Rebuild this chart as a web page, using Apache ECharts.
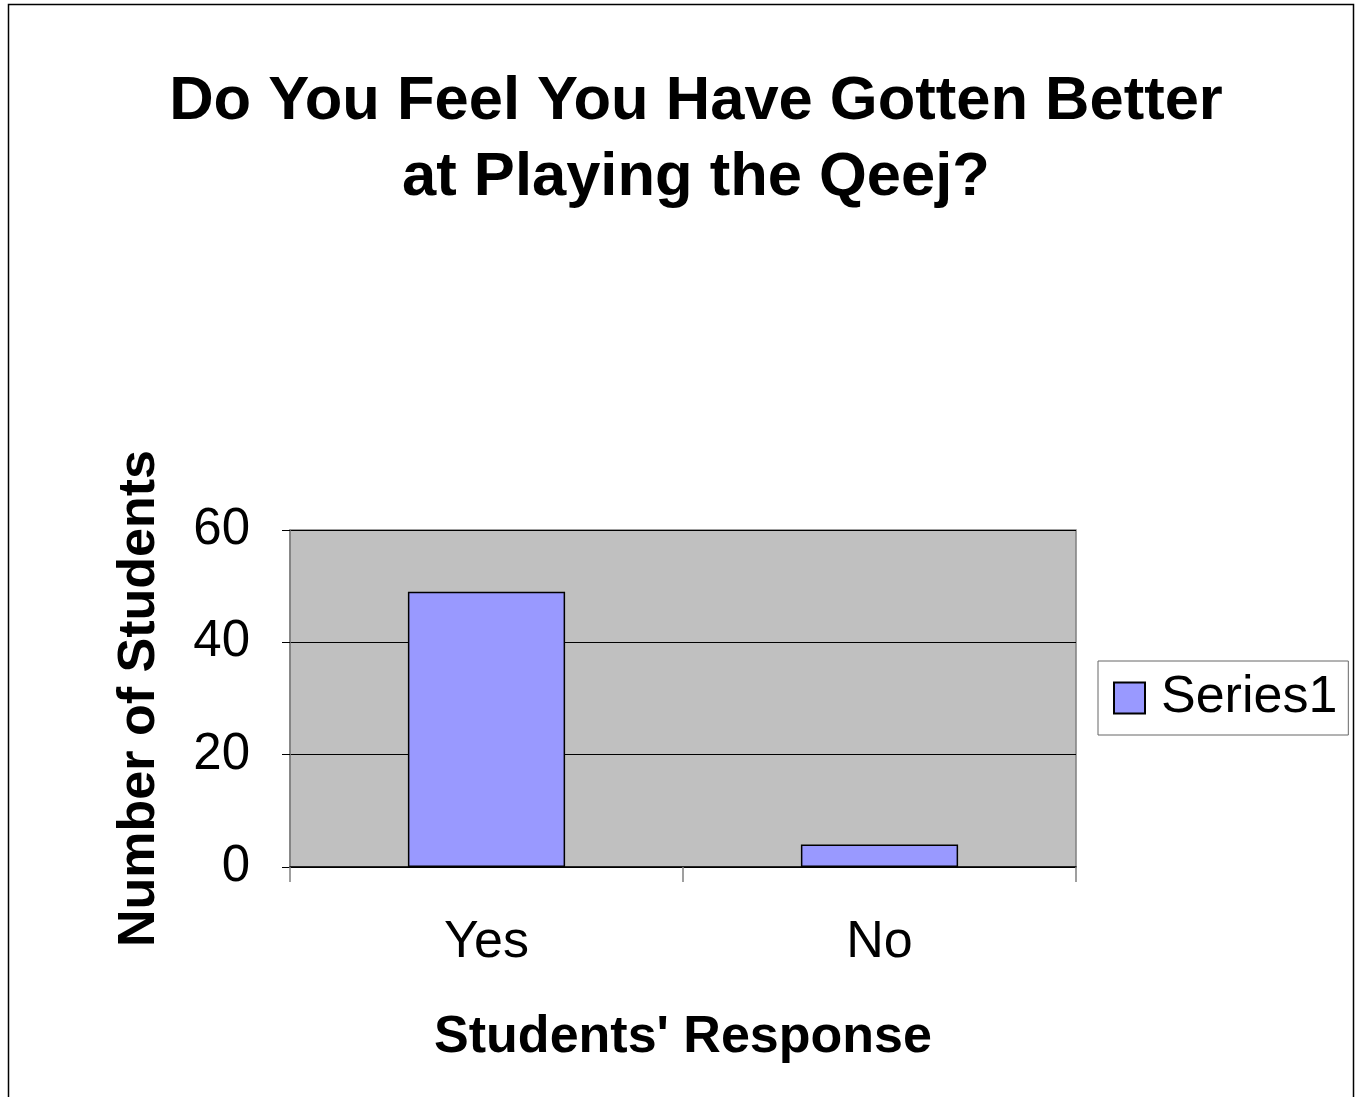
<!DOCTYPE html>
<html>
<head>
<meta charset="utf-8">
<script src="https://cdn.jsdelivr.net/npm/echarts@6/dist/echarts.min.js"></script>
<style>
html,body{margin:0;padding:0;background:#fff;}
#chart{width:1359px;height:1097px;}
</style>
</head>
<body>
<div id="chart"></div>
<script>
var categories = ['Yes', 'No'];
var series1Values = [49, 4];
var yTicks = [0, 20, 40, 60];
var titleText = 'Do You Feel You Have Gotten Better\nat Playing the Qeej?';

var FONT = '"Liberation Sans", Arial, sans-serif';
var chart = echarts.init(document.getElementById('chart'));
chart.setOption({
  backgroundColor: '#ffffff',
  animation: false,
  graphic: [
    {
      type: 'rect', z: -10,
      shape: {x: 8.5, y: 4.5, width: 1345, height: 1120},
      style: {fill: 'none', stroke: '#000', lineWidth: 1.5}
    },
    {
      type: 'text', z: 10,
      x: 696, y: 64,
      style: {
        text: titleText,
        fontFamily: FONT, fontWeight: 'bold', fontSize: 61.5,
        lineHeight: 76, align: 'center', verticalAlign: 'top', fill: '#000'
      }
    }
  ],
  legend: {
    show: true,
    left: 1098, top: 661,
    orient: 'vertical',
    padding: [11, 11, 11, 15],
    borderColor: '#666', borderWidth: 1,
    backgroundColor: '#fff',
    itemWidth: 31, itemHeight: 31,
    icon: 'rect',
    textStyle: {fontFamily: FONT, fontSize: 52, color: '#000', padding: [0, 0, 0, 11]},
    data: ['Series1']
  },
  grid: {
    left: 290, top: 530, width: 786, height: 337,
    show: true, backgroundColor: '#c0c0c0', borderColor: '#808080', borderWidth: 1.5
  },
  xAxis: {
    type: 'category',
    data: categories,
    boundaryGap: true,
    name: "Students' Response",
    nameLocation: 'middle',
    nameGap: 145,
    nameTextStyle: {fontFamily: FONT, fontWeight: 'bold', fontSize: 52, color: '#000'},
    axisLine: {show: true, lineStyle: {color: '#000', width: 1.5}},
    axisTick: {show: true, length: 15, alignWithLabel: false, lineStyle: {color: '#808080', width: 1.5}},
    axisLabel: {fontFamily: FONT, fontSize: 52, color: '#000', margin: 50},
    splitLine: {show: false}
  },
  yAxis: {
    type: 'value',
    min: yTicks[0], max: yTicks[yTicks.length - 1], interval: 20,
    name: 'Number of Students',
    nameLocation: 'middle',
    nameGap: 124,
    nameTextStyle: {fontFamily: FONT, fontWeight: 'bold', fontSize: 52, color: '#000'},
    axisLine: {show: true, lineStyle: {color: '#808080', width: 1.5}},
    axisTick: {show: true, length: 8, lineStyle: {color: '#000', width: 1}},
    axisLabel: {fontFamily: FONT, fontSize: 51, color: '#000', margin: 40},
    splitLine: {show: true, lineStyle: {color: '#000', width: 1}}
  },
  series: [{
    name: 'Series1',
    type: 'bar',
    data: series1Values,
    barWidth: '40%',
    itemStyle: {color: '#9999ff', borderColor: '#000', borderWidth: 1.5}
  }]
});
</script>
</body>
</html>
